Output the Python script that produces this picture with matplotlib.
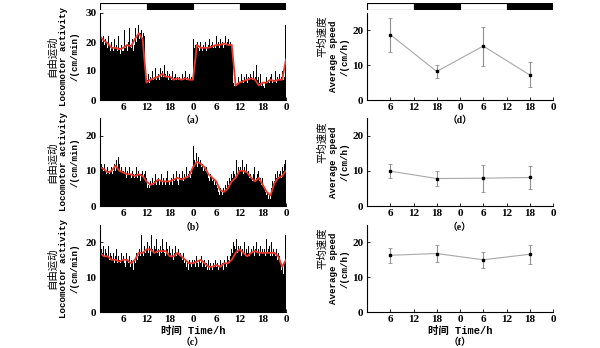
import numpy as np
import matplotlib
matplotlib.use("Agg")
import matplotlib.pyplot as plt
from matplotlib.patches import Rectangle

# ---------------- data ----------------
# quarter-hour bins over 48 h of recording
bin_hours = np.arange(0, 48, 0.25)
# hourly smoothed curve positions
curve_hours = np.arange(0, 49, 1)

activity_a = [
    23, 21, 20, 22, 19, 21, 20, 18, 22, 19, 17, 20,
    18, 17, 21, 18, 16, 19, 17, 22, 18, 16, 19, 17,
    17, 24, 18, 19, 17, 20, 25, 19, 18, 21, 17, 19,
    25, 20, 22, 26, 21, 23, 24, 21, 23, 22, 9, 6,
    5, 7, 9, 6, 8, 7, 10, 7, 8, 11, 7, 8,
    9, 7, 11, 8, 10, 8, 12, 9, 8, 10, 7, 9,
    8, 7, 10, 7, 8, 9, 7, 8, 10, 7, 8, 7,
    7, 9, 7, 8, 10, 7, 8, 7, 9, 7, 8, 7,
    21, 18, 19, 17, 20, 18, 17, 20, 18, 17, 19, 18,
    20, 17, 18, 19, 17, 21, 18, 19, 20, 18, 19, 18,
    22, 19, 20, 18, 21, 19, 20, 18, 19, 22, 19, 20,
    21, 19, 20, 19, 18, 6, 5, 7, 5, 6, 8, 6,
    7, 6, 9, 7, 6, 8, 7, 9, 6, 8, 7, 9,
    8, 7, 10, 7, 8, 12, 7, 8, 6, 9, 5, 6,
    5, 4, 6, 8, 6, 7, 6, 8, 7, 9, 6, 7,
    7, 10, 6, 8, 7, 9, 7, 8, 10, 7, 8, 26,
]
smooth_a = [22, 20.5, 19.5, 18, 18, 17.5, 18, 19, 18.5, 21, 23, 21, 6,
            7, 7.5, 8, 9, 8, 8, 7, 7.5, 7, 7.5, 7, 7,
            19, 18, 18, 18, 18.5, 19, 19, 19.5, 19, 19, 5,
            6, 6.5, 7, 7.5, 7, 5, 6, 6, 7, 6.5, 7, 7, 14]

activity_b = [
    14, 12, 11, 10, 12, 10, 9, 11, 10, 9, 10, 11,
    9, 10, 12, 10, 11, 13, 11, 14, 12, 10, 11, 10,
    10, 9, 11, 8, 10, 9, 11, 9, 8, 10, 9, 8,
    9, 11, 8, 10, 9, 7, 9, 10, 8, 9, 10, 8,
    7, 5, 6, 5, 7, 6, 8, 6, 7, 9, 6, 7,
    8, 6, 7, 9, 6, 8, 7, 6, 8, 10, 7, 6,
    7, 8, 6, 9, 7, 8, 10, 7, 8, 6, 9, 8,
    8, 10, 7, 9, 8, 11, 8, 9, 10, 8, 9, 11,
    17, 13, 12, 15, 11, 14, 12, 13, 11, 12, 10, 11,
    10, 11, 9, 8, 10, 7, 9, 8, 7, 8, 6, 7,
    6, 5, 4, 3, 5, 4, 3, 5, 4, 6, 5, 7,
    6, 8, 7, 9, 8, 10, 9, 8, 13, 9, 11, 10,
    14, 11, 10, 13, 9, 11, 10, 12, 9, 10, 8, 9,
    8, 7, 9, 11, 7, 8, 9, 10, 7, 8, 6, 8,
    6, 5, 4, 3, 4, 2, 3, 2, 4, 5, 7, 6,
    7, 9, 8, 10, 8, 9, 10, 8, 11, 10, 12, 13,
]
smooth_b = [11, 10.5, 9.5, 10, 11.5, 10, 9.5, 9, 9, 8.5, 9, 8.5, 7,
            6, 6.5, 7.5, 7, 7, 7, 7.5, 8, 7.5, 8, 8.5, 11,
            12.5, 12, 11, 9, 8, 7, 4.5, 4, 5, 7, 8,
            10, 10, 9.5, 8, 7, 8, 6, 4, 3, 6.5, 8, 8.5, 10]

activity_c = [
    20, 18, 17, 19, 16, 18, 17, 16, 19, 15, 17, 16,
    15, 17, 14, 16, 15, 18, 14, 16, 15, 14, 17, 15,
    16, 14, 13, 17, 15, 14, 16, 13, 15, 14, 12, 15,
    14, 17, 15, 16, 18, 16, 22, 17, 16, 19, 17, 18,
    18, 20, 17, 19, 16, 22, 18, 17, 19, 18, 21, 17,
    18, 16, 19, 17, 21, 18, 17, 16, 20, 18, 17, 19,
    17, 16, 18, 15, 17, 19, 16, 17, 15, 18, 16, 17,
    16, 15, 17, 14, 15, 13, 14, 12, 15, 14, 13, 15,
    14, 15, 13, 16, 14, 13, 15, 14, 16, 13, 14, 15,
    13, 14, 12, 15, 13, 12, 14, 13, 12, 14, 13, 15,
    13, 14, 12, 13, 15, 13, 14, 12, 15, 14, 13, 16,
    15, 14, 16, 18, 17, 20, 19, 18, 21, 17, 19, 18,
    17, 19, 16, 18, 17, 20, 16, 18, 17, 19, 16, 17,
    18, 17, 19, 16, 18, 20, 17, 18, 16, 19, 17, 18,
    17, 18, 16, 21, 17, 18, 19, 16, 17, 20, 16, 18,
    17, 16, 18, 15, 17, 16, 14, 12, 13, 11, 14, 22,
]
smooth_c = [17, 16, 16, 15, 15, 14.5, 15, 15, 14, 15, 17, 17, 18,
            18, 17, 17.5, 17.5, 17.5, 16, 16, 17, 16, 15, 14, 14,
            14.5, 15, 14, 13, 13, 13.5, 13, 14, 14, 15, 17,
            18, 17, 16, 17, 17.5, 17, 17, 17, 17, 17, 16, 13, 15]

# mean speed per 12-h phase
phase_hours = [6, 18, 30, 42]
speed_d = [18.8, 8.2, 15.5, 7.2]
err_d = [4.9, 2.0, 5.6, 3.6]
speed_e = [9.9, 7.8, 7.9, 8.1]
err_e = [2.0, 2.1, 3.8, 3.2]
speed_f = [16.3, 16.8, 15.0, 16.6]
err_f = [2.2, 2.5, 2.3, 2.7]

xticks = [6, 12, 18, 24, 30, 36, 42, 48]
xtick_labels = ["6", "12", "18", "0", "6", "12", "18", "0"]
# light (white) / dark (black) phases
photo_phases = [(0, 12, "white"), (12, 24, "black"), (24, 36, "white"), (36, 48, "black")]

# ---------------- figure ----------------
W, H = 600, 348
fig = plt.figure(figsize=(6, 3.48), dpi=100)

SERIF = ["Liberation Serif", "Noto Sans CJK SC"]
MONO = ["Liberation Mono", "Noto Sans CJK SC"]
CJK = ["Noto Sans CJK SC", "DejaVu Sans"]


def ax_px(x0, x1, y0, y1):
    return fig.add_axes([x0 / W, 1 - y1 / H, (x1 - x0) / W, (y1 - y0) / H])


def style(ax, ymax, yticks):
    ax.set_xlim(0, 48)
    ax.set_ylim(0, ymax)
    ax.set_xticks(xticks)
    ax.set_xticklabels(xtick_labels)
    ax.set_yticks(yticks)
    for s in ("top", "right"):
        ax.spines[s].set_visible(False)
    for s in ("left", "bottom"):
        ax.spines[s].set_linewidth(0.8)
    ax.tick_params(direction="in", length=2, width=0.6, pad=2.5)
    for lab in ax.get_xticklabels() + ax.get_yticklabels():
        lab.set_family(SERIF)
        lab.set_fontsize(8)
        lab.set_fontweight("bold")


def text_px(x, y, s, **kw):
    fig.text(x / W, 1 - y / H, s, ha="center", va="center", **kw)


LX0, LX1 = 100, 286
RX0, RX1 = 367, 553
rows = [(13, 100), (118, 206), (225, 312)]
tag_y = [120, 227, 342]

left_data = [(activity_a, smooth_a, 30, [0, 10, 20, 30]),
             (activity_b, smooth_b, 25, [0, 10, 20]),
             (activity_c, smooth_c, 25, [0, 10, 20])]
right_data = [(speed_d, err_d), (speed_e, err_e), (speed_f, err_f)]
left_tags = ["（a）", "（b）", "（c）"]
right_tags = ["（d）", "（e）", "（f）"]

for i, (y0, y1) in enumerate(rows):
    bars, smooth, ymax, yt = left_data[i]
    ax = ax_px(LX0, LX1, y0, y1)
    ax.bar(bin_hours, bars, width=0.25, align="edge", color="black", linewidth=0)
    ax.plot(curve_hours, smooth, color="#e8392c", lw=1.3)
    style(ax, ymax, yt)

    sp, er = right_data[i]
    axr = ax_px(RX0, RX1, y0, y1)
    axr.errorbar(phase_hours, sp, yerr=er, color="#a8a8a8", lw=0.8,
                 elinewidth=0.8, ecolor="#909090", capsize=1.5, capthick=0.6,
                 marker="s", ms=1.8, mfc="black", mec="black")
    style(axr, 25, [0, 10, 20])

    yc = (y0 + y1) / 2
    # left y-axis label, three lines
    text_px(52, yc, "自由运动", rotation=90, family=CJK, fontsize=7.5)
    text_px(63, yc, "Locomotor activity", rotation=90, family=MONO,
            fontsize=6.6, fontweight="bold")
    text_px(75, yc, "/(cm/min)", rotation=90, family=MONO,
            fontsize=6.6, fontweight="bold")
    # right y-axis label, three lines
    text_px(322, yc - 20, "平均速度", rotation=90, family=CJK, fontsize=7.5)
    text_px(333, yc, "Average speed", rotation=90, family=MONO,
            fontsize=6.6, fontweight="bold")
    text_px(345, yc, "/(cm/h)", rotation=90, family=MONO,
            fontsize=6.6, fontweight="bold")

    if i == 2:
        text_px(193, 331, "时间 Time/h", family=MONO, fontsize=7.5, fontweight="bold")
        text_px(460, 331, "时间 Time/h", family=MONO, fontsize=7.5, fontweight="bold")
    text_px(193, tag_y[i], left_tags[i], family=SERIF, fontsize=7, fontweight="bold")
    text_px(460, tag_y[i], right_tags[i], family=SERIF, fontsize=7, fontweight="bold")

# light/dark bars above the top row
for x0, x1 in ((LX0, LX1), (RX0, RX1)):
    bx = ax_px(x0, x1, 3, 10)
    bx.set_xlim(0, 48)
    bx.set_ylim(0, 1)
    for a, b, c in photo_phases:
        bx.add_patch(Rectangle((a, 0), b - a, 1, facecolor=c, edgecolor="black", lw=0.8))
    bx.axis("off")

fig.savefig("out.png", dpi=100)
